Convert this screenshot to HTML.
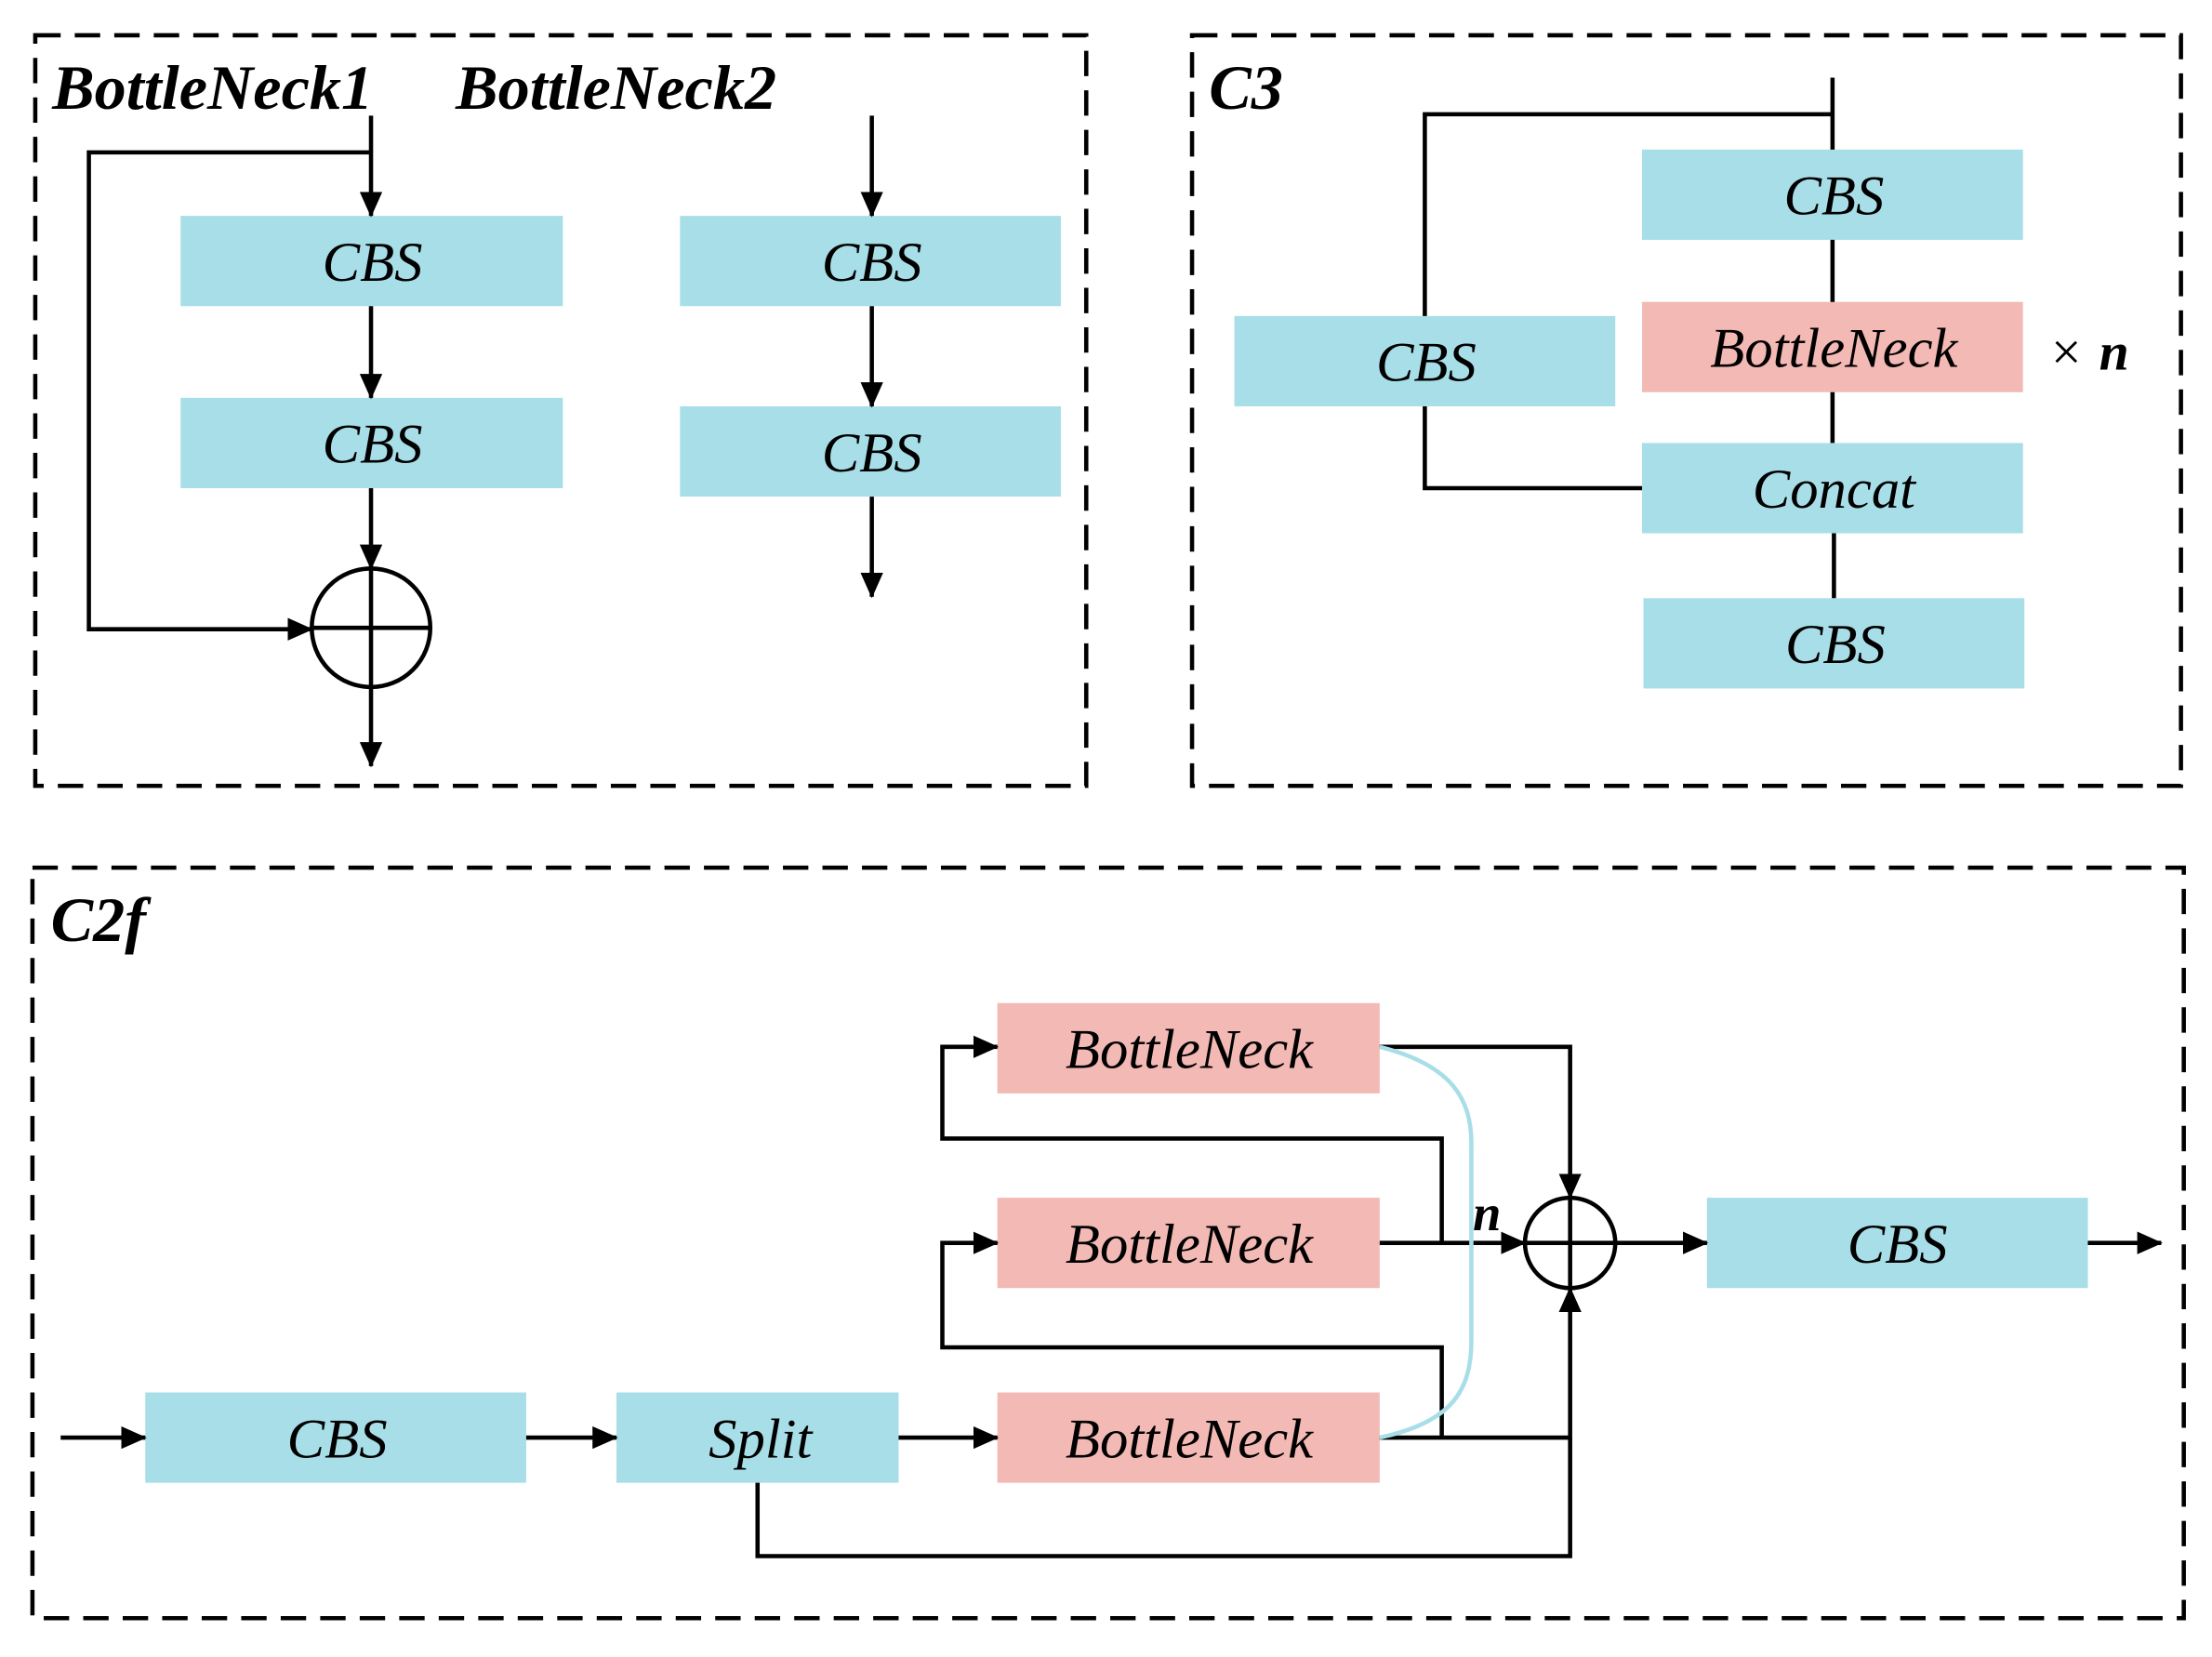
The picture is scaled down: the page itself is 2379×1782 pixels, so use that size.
<!DOCTYPE html>
<html><head><meta charset="utf-8"><style>
html,body{margin:0;padding:0;background:#fff;}
svg{display:block;}
text{font-family:"Liberation Serif",serif;font-style:italic;}
</style></head><body>
<svg width="2379" height="1782" viewBox="0 0 1568 1174.5" preserveAspectRatio="none" xmlns="http://www.w3.org/2000/svg">
<defs>
<marker id="a" markerWidth="18" markerHeight="16" refX="17" refY="8" orient="auto" markerUnits="userSpaceOnUse" viewBox="0 0 18 16">
<path d="M0,0 L18,8 L0,16 z" fill="#000"/></marker>
</defs>
<rect width="1568" height="1175" fill="#fff"/>
<g fill="none" stroke="#000" stroke-width="3" stroke-dasharray="18,10">
<rect x="25" y="25" width="745" height="532"/>
<rect x="845" y="25" width="701" height="532"/>
<rect x="23" y="615" width="1525" height="532"/>
</g>
<g font-size="45" font-weight="bold">
<text x="37" y="77">BottleNeck1</text>
<text x="323" y="77">BottleNeck2</text>
<text x="857" y="77">C3</text>
<text x="36" y="667">C2f</text>
</g>
<g fill="#a8dee8">
<rect x="128" y="153" width="271" height="64"/>
<rect x="128" y="282" width="271" height="64"/>
<rect x="482" y="153" width="270" height="64"/>
<rect x="482" y="288" width="270" height="64"/>
<rect x="875" y="224" width="270" height="64"/>
<rect x="1164" y="106" width="270" height="64"/>
<rect x="1164" y="314" width="270" height="64"/>
<rect x="1165" y="424" width="270" height="64"/>
<rect x="103" y="987" width="270" height="64"/>
<rect x="437" y="987" width="200" height="64"/>
<rect x="1210" y="849" width="270" height="64"/>
</g>
<g fill="#f3b9b5">
<rect x="1164" y="214" width="270" height="64"/>
<rect x="707" y="711" width="271" height="64"/>
<rect x="707" y="849" width="271" height="64"/>
<rect x="707" y="987" width="271" height="64"/>
</g>
<g font-size="40" text-anchor="middle" fill="#000">
<text x="264" y="199">CBS</text>
<text x="264" y="328">CBS</text>
<text x="618" y="199">CBS</text>
<text x="618" y="334">CBS</text>
<text x="1011" y="270">CBS</text>
<text x="1300" y="152">CBS</text>
<text x="1300" y="260">BottleNeck</text>
<text x="1300" y="360">Concat</text>
<text x="1301" y="470">CBS</text>
<text x="239" y="1033">CBS</text>
<text x="539" y="1033">Split</text>
<text x="1345" y="895">CBS</text>
<text x="843" y="757">BottleNeck</text>
<text x="843" y="895">BottleNeck</text>
<text x="843" y="1033">BottleNeck</text>
</g>
<text x="1454" y="262" font-size="38" style="font-style:normal">×</text>
<text x="1488" y="262" font-size="38" font-weight="bold">n</text>
<text x="1044" y="872" font-size="36" font-weight="bold">n</text>
<g fill="none" stroke="#000" stroke-width="3">
<path d="M263,82 V153" marker-end="url(#a)"/>
<path d="M263,217 V282" marker-end="url(#a)"/>
<path d="M263,346 V403" marker-end="url(#a)"/>
<circle cx="263" cy="445" r="42"/>
<path d="M221,445 H305 M263,403 V487"/>
<path d="M263,487 V543" marker-end="url(#a)"/>
<path d="M263,108 H63 V446 H221" marker-end="url(#a)"/>
<path d="M618,82 V153" marker-end="url(#a)"/>
<path d="M618,217 V288" marker-end="url(#a)"/>
<path d="M618,352 V423" marker-end="url(#a)"/>
<path d="M1010,224 V81 H1299"/>
<path d="M1299,55 V106"/>
<path d="M1299,170 V214 M1299,278 V314 M1300,378 V424"/>
<path d="M1010,288 V346 H1164"/>
<path d="M43,1019 H103" marker-end="url(#a)"/>
<path d="M373,1019 H437" marker-end="url(#a)"/>
<path d="M637,1019 H707" marker-end="url(#a)"/>
<circle cx="1113" cy="881" r="32"/>
<path d="M1081,881 H1145 M1113,849 V913"/>
<path d="M1145,881 H1210" marker-end="url(#a)"/>
<path d="M1480,881 H1532" marker-end="url(#a)"/>
<path d="M978,742 H1113 V849" marker-end="url(#a)"/>
<path d="M978,881 H1081" marker-end="url(#a)"/>
<path d="M978,1019 H1113 V913" marker-end="url(#a)"/>
<path d="M537,1051 V1103 H1113 V1019"/>
<path d="M1022,881 V807 H668 V742 H707" marker-end="url(#a)"/>
<path d="M1022,1019 V955 H668 V881 H707" marker-end="url(#a)"/>
</g>
<path d="M978,742 C1030,755 1043,780 1043,810 V950 C1043,985 1030,1008 978,1019" fill="none" stroke="#a8dee8" stroke-width="3"/>
</svg>
</body></html>
